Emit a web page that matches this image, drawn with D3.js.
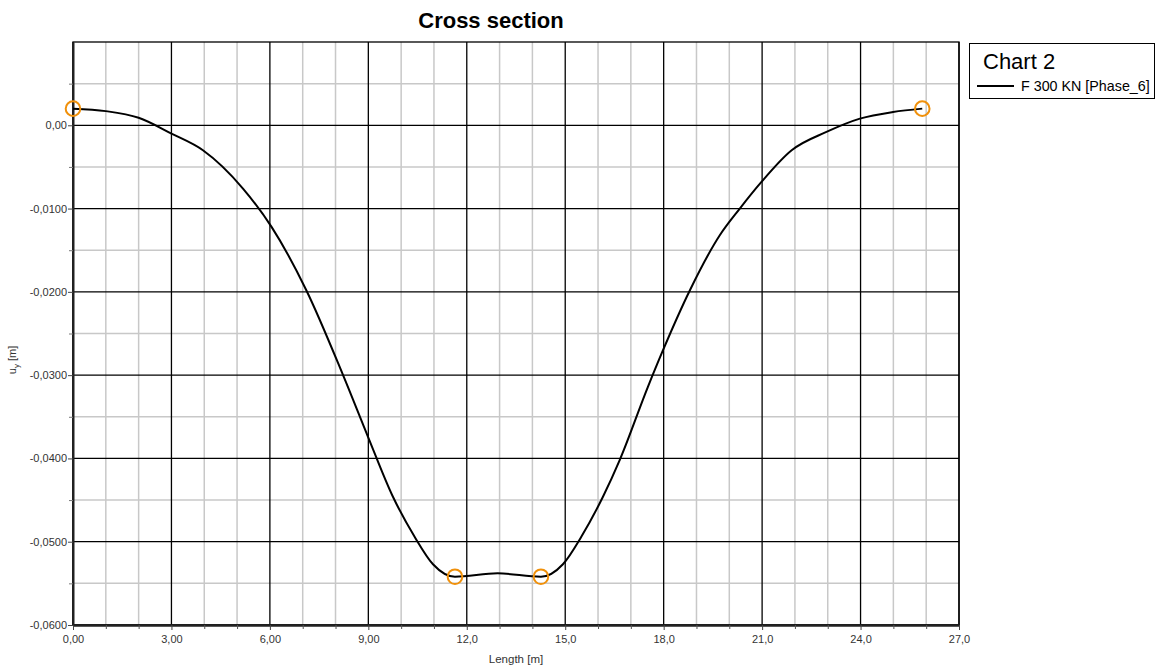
<!DOCTYPE html>
<html><head><meta charset="utf-8">
<script src="https://cdn.jsdelivr.net/npm/d3@7"></script>
<style>body{margin:0;background:#fff;}svg{display:block;font-family:"Liberation Sans",Arial,sans-serif;}</style>
</head><body><svg id="c" width="1157" height="671"></svg>
<script>
const lengthX = [0, 1.0, 2.0, 3.0, 3.96, 5.18, 6.05, 7.11, 8.23, 8.99, 9.75, 10.41, 10.97, 11.64, 12.94,
  14.26, 14.93, 15.49, 16.15, 16.66, 17.52, 17.98, 18.80, 19.71, 20.32, 20.98, 21.9, 22.96, 23.98, 24.99, 25.88];
const uy = [0.0020, 0.0017, 0.0009, -0.0010, -0.0030, -0.0076, -0.0122, -0.0198, -0.0300, -0.0374, -0.0446, -0.0494, -0.0527, -0.0542, -0.0538,
  -0.0542, -0.0527, -0.0494, -0.0446, -0.0402, -0.0314, -0.0270, -0.0198, -0.0132, -0.0100, -0.0068, -0.0030, -0.0008, 0.0008, 0.0016, 0.0020];
const markerX = [0, 11.64, 14.26, 25.88];
const markerY = [0.0020, -0.0542, -0.0542, 0.0020];
const xTicks = [0, 3, 6, 9, 12, 15, 18, 21, 24, 27];
const xTickLabels = ["0,00","3,00","6,00","9,00","12,0","15,0","18,0","21,0","24,0","27,0"];
const yTicks = [0, -0.01, -0.02, -0.03, -0.04, -0.05, -0.06];
const yTickLabels = ["0,00","-0,0100","-0,0200","-0,0300","-0,0400","-0,0500","-0,0600"];
const xMinor = [1,2,4,5,7,8,10,11,13,14,16,17,19,20,22,23,25,26];
const yMinor = [0.005,-0.005,-0.015,-0.025,-0.035,-0.045,-0.055];
const seriesName = "F 300 KN [Phase_6]";
const chartName = "Chart 2";

const svg = d3.select("#c");
const L = 73, R = 959, T = 42, B = 625;
const x = d3.scaleLinear().domain([0, 27]).range([L, R]);
const y = d3.scaleLinear().domain([-0.06, 0.01]).range([B, T]);

// minor grid
svg.append("g").selectAll("line").data(xMinor).join("line")
  .attr("x1", d => x(d)).attr("x2", d => x(d)).attr("y1", T).attr("y2", B)
  .attr("stroke", "#c8c8c8").attr("stroke-width", 1.5);
svg.append("g").selectAll("line").data(yMinor).join("line")
  .attr("y1", d => y(d)).attr("y2", d => y(d)).attr("x1", L).attr("x2", R)
  .attr("stroke", "#c8c8c8").attr("stroke-width", 1.5);
// major grid
svg.append("g").selectAll("line").data(xTicks).join("line")
  .attr("x1", d => x(d)).attr("x2", d => x(d)).attr("y1", T).attr("y2", B)
  .attr("stroke", "#000").attr("stroke-width", 1.3);
svg.append("g").selectAll("line").data(yTicks).join("line")
  .attr("y1", d => y(d)).attr("y2", d => y(d)).attr("x1", L).attr("x2", R)
  .attr("stroke", "#000").attr("stroke-width", 1.3);
// frame
svg.append("rect").attr("x", L).attr("y", T).attr("width", R - L).attr("height", B - T)
  .attr("fill", "none").attr("stroke", "#000").attr("stroke-width", 1.3);

// axes
const xAxis = d3.axisBottom(x).tickValues(xTicks).tickFormat(d => xTickLabels[xTicks.indexOf(d)]).tickSize(5).tickSizeOuter(0);
const gx = svg.append("g").attr("transform", `translate(0,${B})`).call(xAxis);
gx.select(".domain").attr("stroke", "#222").attr("stroke-width", 2.5);
gx.selectAll(".tick line").attr("stroke", "#444");
gx.selectAll("text").attr("font-size", 11).attr("fill", "#333").attr("dy", "0.9em");
const gxm = svg.append("g").attr("transform", `translate(0,${B})`)
  .call(d3.axisBottom(x).tickValues(xMinor).tickFormat("").tickSize(4).tickSizeOuter(0));
gxm.select(".domain").remove();
gxm.selectAll(".tick line").attr("stroke", "#555");

const yAxis = d3.axisLeft(y).tickValues(yTicks).tickFormat(d => yTickLabels[yTicks.indexOf(d)]).tickSize(5).tickSizeOuter(0);
const gy = svg.append("g").attr("transform", `translate(${L},0)`).call(yAxis);
gy.select(".domain").attr("stroke", "#222").attr("stroke-width", 2);
gy.selectAll(".tick line").attr("stroke", "#444");
gy.selectAll(".tick text").attr("font-size", 11).attr("fill", "#333").attr("x", -6)
  .text(d => yTickLabels[yTicks.indexOf(d)]);
const gym = svg.append("g").attr("transform", `translate(${L},0)`)
  .call(d3.axisLeft(y).tickValues(yMinor).tickFormat("").tickSize(4).tickSizeOuter(0));
gym.select(".domain").remove();
gym.selectAll(".tick line").attr("stroke", "#777");

// line
const pts = lengthX.map((d, i) => [d, uy[i]]);
svg.append("path").datum(pts)
  .attr("d", d3.line().x(d => x(d[0])).y(d => y(d[1])).curve(d3.curveMonotoneX))
  .attr("fill", "none").attr("stroke", "#000").attr("stroke-width", 2).attr("stroke-linejoin", "round");

// markers
svg.append("g").selectAll("circle").data(markerX.map((d, i) => [d, markerY[i]])).join("circle")
  .attr("cx", d => x(d[0])).attr("cy", d => y(d[1])).attr("r", 7.3)
  .attr("fill", "none").attr("stroke", "#f0900a").attr("stroke-width", 2);

// title
svg.append("text").attr("x", 491).attr("y", 28).attr("text-anchor", "middle")
  .attr("font-size", 22).attr("font-weight", "bold").attr("fill", "#000").text("Cross section");
// axis titles
svg.append("text").attr("x", (L + R) / 2).attr("y", 663).attr("text-anchor", "middle")
  .attr("font-size", 11.5).attr("fill", "#333").text("Length [m]");
const yl = svg.append("text").attr("transform", "translate(16,360) rotate(-90)")
  .attr("text-anchor", "middle").attr("font-size", 11).attr("fill", "#333");
yl.append("tspan").text("u");
yl.append("tspan").attr("font-size", 8).attr("dy", 3).text("y");
yl.append("tspan").attr("dy", -3).text(" [m]");

// legend
const lg = svg.append("g");
lg.append("rect").attr("x", 969.5).attr("y", 43.5).attr("width", 185).attr("height", 55)
  .attr("fill", "#fff").attr("stroke", "#000").attr("stroke-width", 1);
lg.append("text").attr("x", 983).attr("y", 69).attr("font-size", 22).attr("fill", "#000").text(chartName);
lg.append("line").attr("x1", 977).attr("x2", 1014).attr("y1", 86).attr("y2", 86).attr("stroke", "#000").attr("stroke-width", 2);
lg.append("text").attr("x", 1021).attr("y", 91).attr("font-size", 14.3).attr("fill", "#000").text(seriesName);
</script></body></html>
